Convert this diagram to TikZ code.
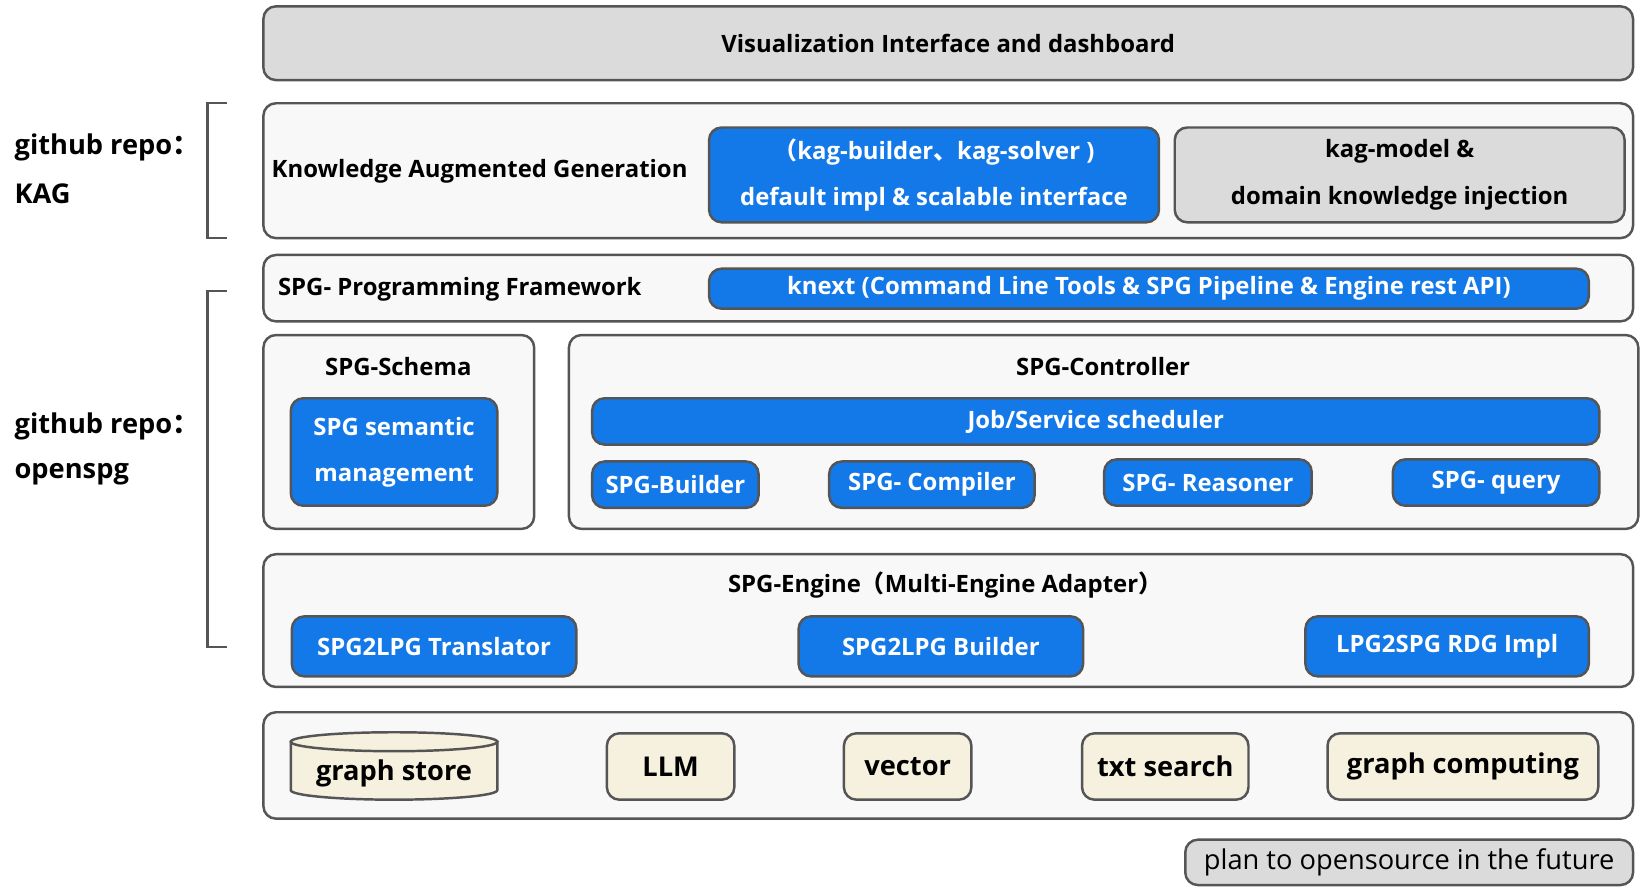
\documentclass[tikz,border=0pt]{standalone}
\usepackage{fontspec}
\setmainfont{Open Sans}
\newfontfamily\cjk{Noto Sans CJK SC}
\definecolor{spgblue}{HTML}{1479E8}
\definecolor{edgegray}{HTML}{555555}
\definecolor{panelgray}{HTML}{F8F8F8}
\definecolor{futuregray}{HTML}{DADBDA}
\definecolor{storecream}{HTML}{F6F0DF}
\tikzset{
  panel/.style={draw=edgegray, line width=1.4pt, rounded corners=0.25cm, fill=panelgray, inner sep=0pt, font=\bfseries\fontsize{13.6}{16}\selectfont},
  future/.style={panel, fill=futuregray},
  blue/.style={draw=edgegray, line width=1.4pt, rounded corners=0.25cm, fill=spgblue, text=white, inner sep=0pt, align=center, font=\bfseries\fontsize{13.6}{26.4}\selectfont},
  store/.style={draw=edgegray, line width=1.4pt, rounded corners=0.25cm, fill=storecream, inner sep=0pt, font=\bfseries\fontsize{15.5}{18}\selectfont},
  side/.style={anchor=west, font=\bfseries\fontsize{15.5}{18}\selectfont},
  title/.style={font=\bfseries\fontsize{13.6}{16}\selectfont},
  bracket/.style={draw=edgegray, line width=1.4pt}
}
\def\unitpx{0.02107cm}
% box from corner (#3,#4) to corner (#5,#6)
\newcommand\boxnode[7]{\node[#1, minimum width={(#5-#3)*\unitpx}, minimum height={(#6-#4)*\unitpx}]
  (#2) at ({(#3+#5)/2},{(#4+#6)/2}) {#7};}
\begin{document}
\begin{tikzpicture}[x=\unitpx, y=-\unitpx]
\useasboundingbox (0,0) rectangle (1568,846);

% top layer
\boxnode{future}{vis}{250}{6}{1550}{76}{Visualization Interface and dashboard}

% KAG layer
\boxnode{panel}{kag}{250}{98}{1550}{226}{}
\node[title, anchor=west] (kagtitle) at (252,163) {Knowledge Augmented Generation};
\boxnode{blue}{kagimpl}{673}{121}{1100}{211}{{\cjk（}kag-builder{\cjk、}kag-solver ){}\\default impl \& scalable interface}
\boxnode{future, align=center, font=\bfseries\fontsize{13.6}{26.4}\selectfont}{kagmodel}{1115}{121}{1542}{211}{kag-model \&\\domain knowledge injection}

% programming framework
\boxnode{panel}{prog}{250}{242}{1550}{305}{}
\node[title, anchor=west] (progtitle) at (258,275) {SPG- Programming Framework};
\boxnode{blue}{knext}{673}{255}{1508}{293}{knext (Command Line Tools \& SPG Pipeline \& Engine rest API)}

% schema and controller
\boxnode{panel}{schema}{250}{318}{507}{502}{}
\node[title] (schematitle) at (378,348) {SPG-Schema};
\boxnode{blue}{semantic}{276}{378}{472}{480}{SPG semantic\\management}

\boxnode{panel}{ctrl}{540}{318}{1555}{502}{}
\node[title] (ctrltitle) at (1047,348) {SPG-Controller};
\boxnode{blue}{job}{562}{378}{1518}{422}{Job/Service scheduler}
\boxnode{blue}{builder}{562}{438}{720}{482}{SPG-Builder}
\boxnode{blue}{compiler}{787}{438}{982}{482}{SPG- Compiler}
\boxnode{blue}{reasoner}{1048}{436}{1245}{480}{SPG- Reasoner}
\boxnode{blue}{query}{1322}{436}{1518}{480}{SPG- query}

% engine
\boxnode{panel}{engine}{250}{526}{1550}{652}{}
\node[title] (enginetitle) at (897,555) {SPG-Engine{\cjk（}Multi-Engine Adapter{\cjk）}};
\boxnode{blue}{translator}{277}{585}{547}{642}{SPG2LPG Translator}
\boxnode{blue}{lpgbuilder}{758}{585}{1028}{642}{SPG2LPG Builder}
\boxnode{blue}{rdg}{1239}{585}{1508}{642}{LPG2SPG RDG Impl}

% storage
\boxnode{panel}{storage}{250}{676}{1550}{777}{}
\draw[draw=edgegray, line width=1.4pt, fill=storecream]
  (276,704) -- (276,750) arc (180:0:98 and 9) -- (472,704) -- cycle;
\draw[draw=edgegray, line width=1.4pt, fill=storecream] (374,704) ellipse (98 and 9);
\node[font=\bfseries\fontsize{15.5}{18}\selectfont] (graphstore) at (374,734) {graph store};
\boxnode{store}{llm}{576}{696}{697}{759}{LLM}
\boxnode{store}{vector}{801}{696}{922}{759}{vector}
\boxnode{store}{txt}{1027}{696}{1185}{759}{txt search}
\boxnode{store}{computing}{1260}{696}{1517}{759}{graph computing}

% legend
\boxnode{future, font=\fontsize{15.5}{18}\selectfont}{legend}{1125}{797}{1550}{840}{plan to opensource in the future}

% repo labels
\node[side] (kaglabel) at (8,140) {github repo{\cjk：}};
\node[side] at (8,184) {KAG};
\draw[bracket] (215,98) -- (197,98) -- (197,226) -- (215,226);
\node[side] (spglabel) at (8,405) {github repo{\cjk：}};
\node[side] at (8,450) {openspg};
\draw[bracket] (215,276) -- (197,276) -- (197,614) -- (215,614);
\end{tikzpicture}
\end{document}
